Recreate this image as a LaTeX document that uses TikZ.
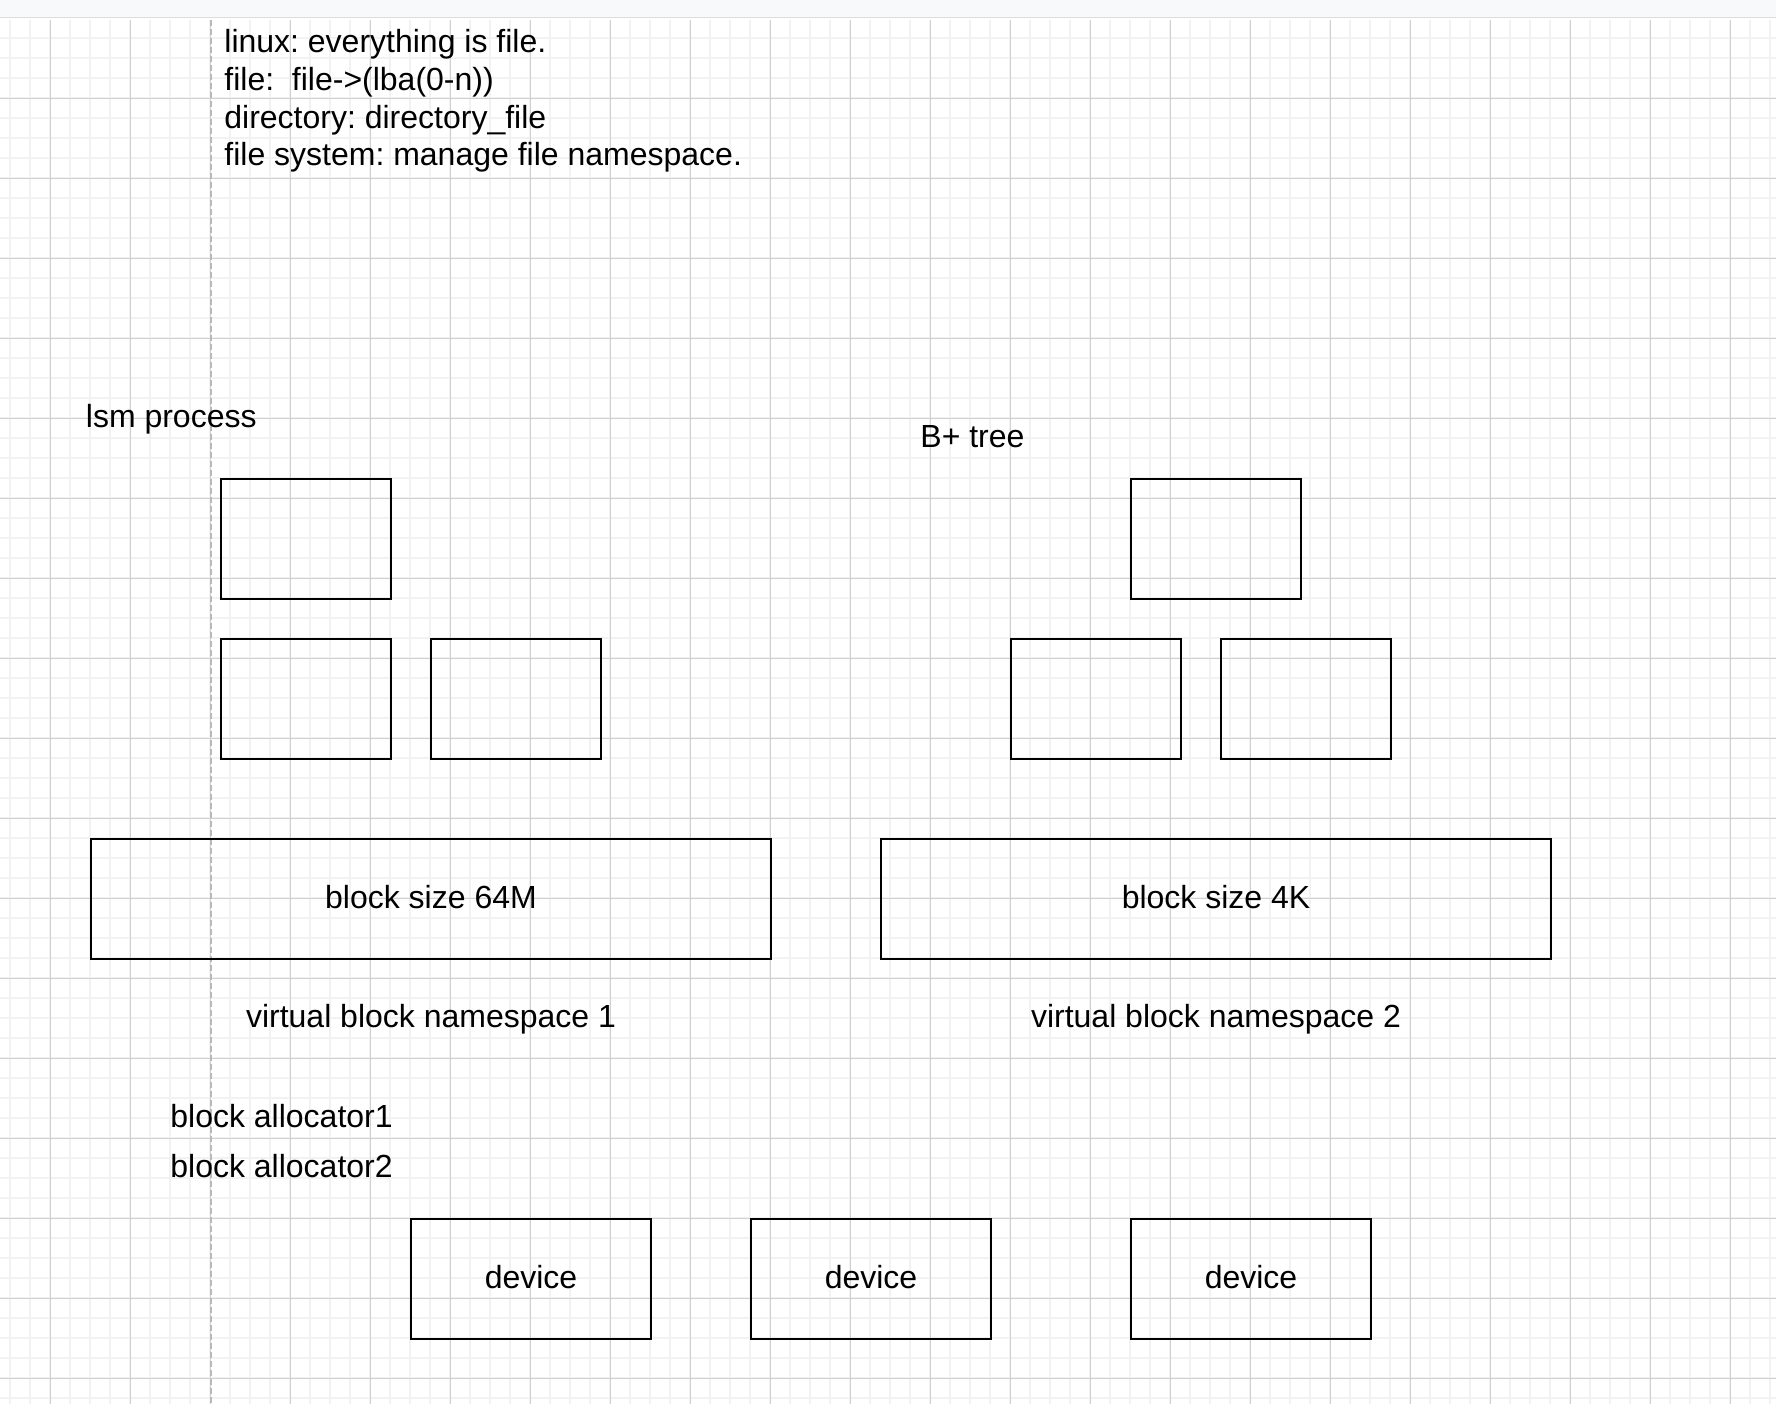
\documentclass[tikz,border=0pt]{standalone}
\usepackage{fontspec}
\setmainfont{Liberation Sans}
\frenchspacing
\definecolor{toolbar}{RGB}{248,249,250}
\definecolor{toolbarline}{RGB}{218,220,224}
\definecolor{gridminor}{RGB}{242,242,242}
\definecolor{gridmajor}{RGB}{208,208,208}
\definecolor{pagebreak}{RGB}{185,185,185}

\begin{document}
\begin{tikzpicture}[x=0.5pt, y=-0.5pt,
  minorline/.style={gridminor, line width=1pt},
  majorline/.style={gridmajor, line width=0.5pt},
  plaintext/.style={font=\fontsize{16pt}{19pt}\selectfont, inner sep=0pt},
  cell/.style={draw, line width=1pt, inner sep=0pt,
    minimum width=85pt, minimum height=60pt},
  wide/.style={cell, minimum width=#1, plaintext,
    text height=12pt, text depth=3pt}]
\useasboundingbox (0,0) rectangle (1776,1404);

% Canvas: toolbar strip and grid
\fill[toolbar] (0,0) rectangle (1776,17);
\draw[toolbarline, line width=0.75pt] (0,17.5) -- (1776,17.5);
\foreach \k in {0,...,88}
  \draw[minorline] ({10+20*\k},20) -- ({10+20*\k},1404);
\foreach \k in {1,...,69}
  \draw[minorline] (0,{18.33+20*\k}) -- (1776,{18.33+20*\k});
\foreach \k in {0,...,21}
  \draw[majorline] ({50+80*\k},20) -- ({50+80*\k},1404);
\foreach \k in {1,...,17}
  \draw[majorline] (0,{18.33+80*\k}) -- (1776,{18.33+80*\k});
\draw[pagebreak, line width=0.9pt, dash pattern=on 3pt off 1.5pt]
  (210.7,20) -- (210.7,1404);

% Notes
\node[plaintext, anchor=base west] (note1) at (224,52.5) {linux: everything is file.};
\node[plaintext, anchor=base west] (note2) at (224,90.3) {file:~ file->(lba(0-n))};
\node[plaintext, anchor=base west] (note3) at (224,128.1) {directory: directory\_file};
\node[plaintext, anchor=base west] (note4) at (224,165.9) {file system: manage file namespace.};

% LSM side
\node[plaintext, anchor=base west] (lsmtitle) at (85.5,427) {lsm process};
\node[cell] (lsmtop) at (306,539) {};
\node[cell] (lsmleft) at (306,699) {};
\node[cell] (lsmright) at (516,699) {};

% B+ tree side
\node[plaintext, anchor=base west] (bttitle) at (920,447) {B+ tree};
\node[cell] (bttop) at (1216,539) {};
\node[cell] (btleft) at (1096,699) {};
\node[cell] (btright) at (1306,699) {};

% Virtual block namespaces
\node[wide=340pt] (ns1) at (431,899) {block size 64M};
\node[wide=335pt] (ns2) at (1216,899) {block size 4K};
\node[plaintext, anchor=base] (ns1name) at (431,1027) {virtual block namespace 1};
\node[plaintext, anchor=base] (ns2name) at (1216,1027) {virtual block namespace 2};

% Allocators and devices
\node[plaintext, anchor=base west] (alloc1) at (170,1127) {block allocator1};
\node[plaintext, anchor=base west] (alloc2) at (170,1177) {block allocator2};
\node[wide=120pt] (dev1) at (531,1279) {device};
\node[wide=120pt] (dev2) at (871,1279) {device};
\node[wide=120pt] (dev3) at (1251,1279) {device};
\end{tikzpicture}
\end{document}
